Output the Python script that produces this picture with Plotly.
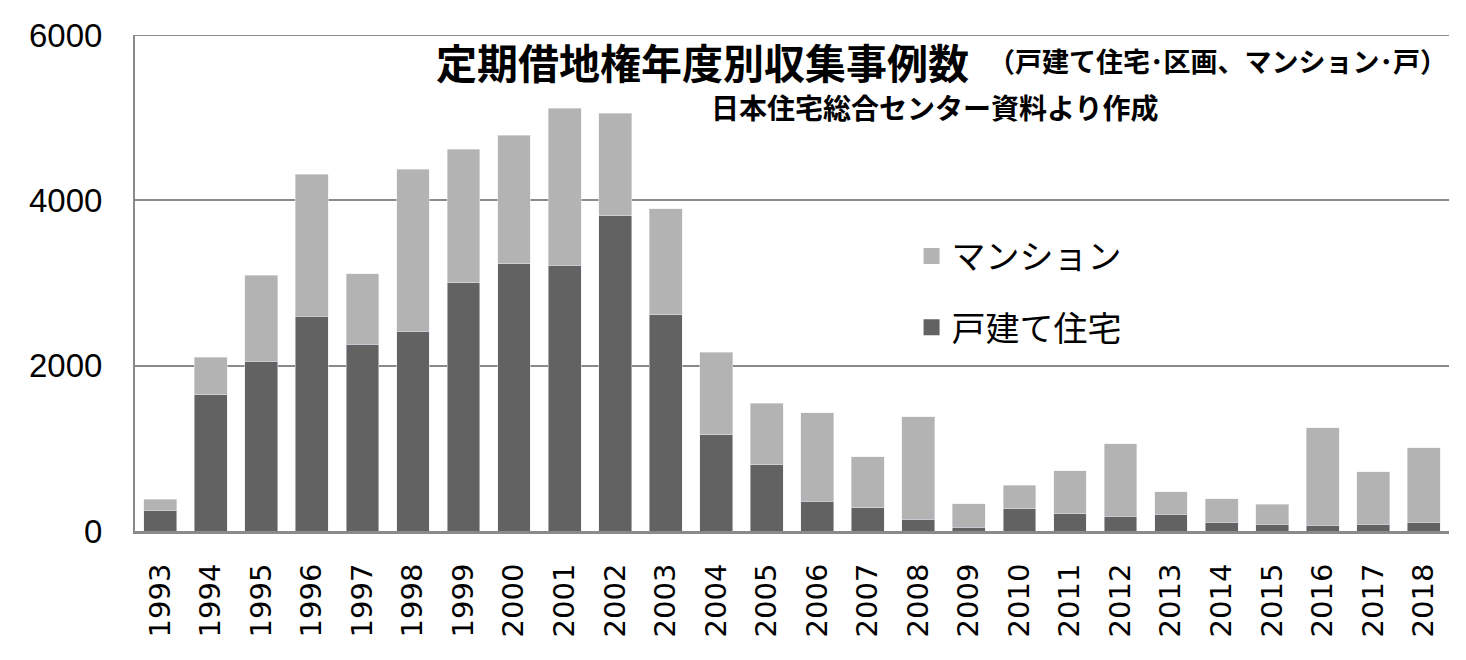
import plotly.graph_objects as go

# 定期借地権 年度別収集事例数 (日本住宅総合センター資料)
years = [str(y) for y in range(1993, 2019)]
total = [383, 2103, 3092, 4318, 3114, 4378, 4619, 4787, 5114, 5054, 3897, 2163,
         1548, 1428, 899, 1381, 331, 551, 731, 1054, 477, 391, 323, 1247, 718, 1006]
kodate = [249, 1647, 2056, 2598, 2258, 2417, 3006, 3234, 3213, 3815, 2619, 1166,
          804, 357, 284, 142, 43, 271, 211, 176, 202, 103, 82, 69, 82, 103]
mansion = [t - k for t, k in zip(total, kodate)]

jp = "Noto Sans CJK JP"
c_kodate = "#626262"
c_mansion = "#b3b3b3"

fig = go.Figure()
fig.add_trace(go.Bar(x=years, y=kodate, name="戸建て住宅", marker_color=c_kodate,
                     showlegend=False))
fig.add_trace(go.Bar(x=years, y=mansion, name="マンション", marker_color=c_mansion,
                     showlegend=False))
# legend entries with bigger square swatches
fig.add_trace(go.Scatter(x=[None], y=[None], mode="markers", name="マンション",
                         legendgroup="m", marker=dict(symbol="square", size=18, color=c_mansion)))
fig.add_trace(go.Scatter(x=[None], y=[None], mode="markers", name="戸建て住宅",
                         legendgroup="k", marker=dict(symbol="square", size=18, color=c_kodate)))

# page body has 8px margin, so the figure is a bit smaller than the window
fig.update_layout(
    width=1450, height=644,
    margin=dict(l=127, r=9, t=24, b=121),
    barmode="stack", bargap=0.35,
    plot_bgcolor="white", paper_bgcolor="white",
    legend=dict(x=0.591, y=0.612, xanchor="left", yanchor="top",
                traceorder="grouped", tracegroupgap=24, itemsizing="trace",
                font=dict(family=jp, size=34, color="black"),
                bgcolor="rgba(0,0,0,0)"),
)
fig.update_xaxes(tickangle=-90, tickfont=dict(family="DejaVu Sans", size=29, color="black"),
                 showline=True, linecolor="#8a8a8a", linewidth=3, ticks="",
                 ticklabelstandoff=18)
fig.update_yaxes(range=[0, 6000], dtick=2000, showgrid=True, gridcolor="#8a8a8a",
                 gridwidth=2, showline=True, linecolor="#8a8a8a", linewidth=2,
                 zeroline=False, ticks="", ticklabelstandoff=24,
                 tickfont=dict(family="Liberation Sans", size=33, color="black"))

# top gridline (6000) sits on the plot edge
fig.add_shape(type="line", xref="paper", yref="y", x0=0, x1=1, y0=6000, y1=6000,
              line=dict(color="#8a8a8a", width=2))

fig.add_annotation(text="<b>定期借地権年度別収集事例数</b>", xref="paper", yref="paper",
                   x=0.2275, y=0.948, xanchor="left", yanchor="middle", showarrow=False,
                   font=dict(family=jp, size=41, color="black"))
fig.add_annotation(text="<b>（戸建て住宅･区画、マンション･戸）</b>", xref="paper", yref="paper",
                   x=1.0, y=0.948, xanchor="right", yanchor="middle", showarrow=False,
                   font=dict(family=jp, size=27, color="black"))
fig.add_annotation(text="<b>日本住宅総合センター資料より作成</b>", xref="paper", yref="paper",
                   x=0.437, y=0.854, xanchor="left", yanchor="middle", showarrow=False,
                   font=dict(family=jp, size=28, color="black"))

fig.write_html("out.html")
